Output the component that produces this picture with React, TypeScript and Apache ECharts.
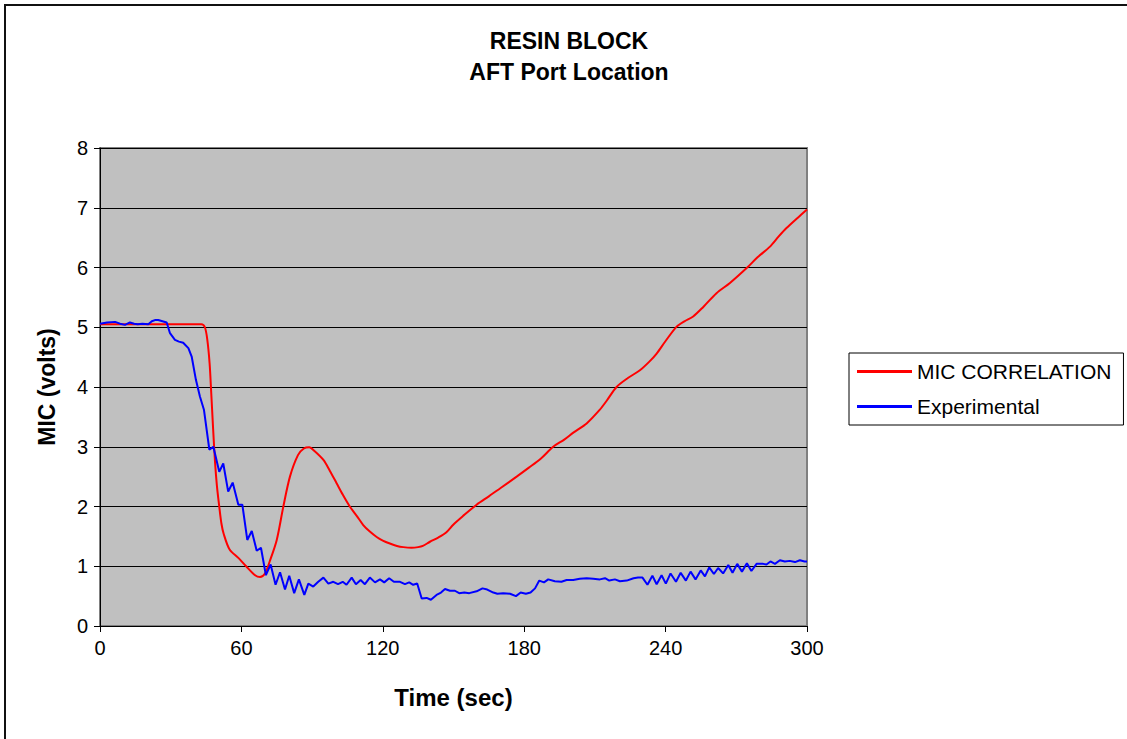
import React, { useEffect, useRef } from "react";
import * as echarts from "echarts";

const titleLines = ["RESIN BLOCK", "AFT Port Location"];
const xAxisName = "Time (sec)";
const yAxisName = "MIC (volts)";
const xTicks = [0, 60, 120, 180, 240, 300];
const yTicks = [0, 1, 2, 3, 4, 5, 6, 7, 8];
const seriesNames = ["MIC CORRELATION", "Experimental"];

const micCorrelation: [number, number][] = [
  [0, 5.05], [20, 5.05], [43, 5.05], [44.5, 5.0], [45.5, 4.8], [46.5, 4.4], [47.2, 3.9],
  [48, 3.3], [48.8, 2.75], [49.6, 2.35], [50.6, 2.0], [51.5, 1.72], [52.5, 1.54], [55, 1.28],
  [58.7, 1.14], [62, 1.0], [65.8, 0.85], [67.9, 0.82], [70, 0.88], [72, 1.08], [75, 1.44],
  [77.8, 2.0], [80.6, 2.5], [84, 2.86], [86.5, 2.97], [88.8, 2.99], [91, 2.93], [94.8, 2.78],
  [97.5, 2.6], [100.4, 2.39], [103, 2.2], [106, 2.0], [109, 1.84], [111.7, 1.69], [114.5, 1.58],
  [117.4, 1.49], [120, 1.43], [123, 1.38], [126, 1.34], [128.7, 1.32], [132.2, 1.31], [135, 1.32],
  [137, 1.34], [140, 1.41], [143.5, 1.48], [147, 1.57], [150, 1.7], [154, 1.84], [159.8, 2.03],
  [165, 2.17], [170, 2.31], [176.8, 2.5], [182, 2.65], [187, 2.8], [192.3, 3.0], [197, 3.12],
  [201, 3.24], [206.5, 3.39], [212.1, 3.62], [215, 3.77], [219.2, 4.0], [224, 4.15], [229.1, 4.28],
  [233, 4.42], [236.2, 4.56], [240, 4.77], [244.7, 5.01], [248, 5.1], [251.7, 5.18], [256, 5.34],
  [261.6, 5.57], [267.3, 5.74], [274.4, 5.99], [279, 6.17], [284.3, 6.35], [288, 6.52],
  [291.3, 6.66], [296, 6.83], [300, 6.97],
];

const experimental: [number, number][] = [
  [0, 5.06], [3, 5.08], [6.4, 5.09], [8.5, 5.06], [10.6, 5.04], [12.7, 5.08], [14.5, 5.06],
  [16, 5.05], [18, 5.06], [20.5, 5.05], [22, 5.1], [23.3, 5.12], [24.7, 5.12], [26.5, 5.1],
  [28.3, 5.08], [29.7, 4.9], [31.8, 4.79], [33.5, 4.76], [35.3, 4.74], [37.5, 4.65], [38.9, 4.51],
  [40.7, 4.12], [42.4, 3.84], [44.1, 3.62], [46.4, 2.95], [48.1, 3.0], [50.6, 2.58], [52.3, 2.72],
  [54.4, 2.25], [56.3, 2.4], [58.7, 2.03], [60.4, 2.03], [62.5, 1.44], [64.4, 1.59], [66.5, 1.26],
  [68.3, 1.31], [70.4, 0.85], [72.4, 1.03], [74.5, 0.69], [76.4, 0.9], [78.5, 0.61], [80.3, 0.84],
  [82.4, 0.55], [84.4, 0.78], [86.7, 0.52], [88.4, 0.71], [90.5, 0.66], [92.6, 0.74], [94.8, 0.81],
  [96.9, 0.71], [99, 0.74], [101, 0.7], [103, 0.74], [104.6, 0.69], [106.8, 0.81], [108.6, 0.7],
  [110.6, 0.77], [112.4, 0.7], [114.5, 0.81], [116.7, 0.73], [118.8, 0.78], [120.6, 0.73],
  [122.7, 0.8], [124.7, 0.74], [127.3, 0.74], [129.4, 0.7], [131.2, 0.73], [132.9, 0.69],
  [134.6, 0.71], [136.5, 0.46], [138.6, 0.47], [140.4, 0.44], [142.8, 0.52], [144.7, 0.56],
  [146.4, 0.62], [148.5, 0.59], [150.6, 0.59], [152.4, 0.55], [154.6, 0.56], [156.7, 0.55],
  [159.8, 0.58], [162.3, 0.63], [164.3, 0.61], [166.9, 0.56], [168.6, 0.54], [171.1, 0.55],
  [174, 0.54], [176.5, 0.5], [178.5, 0.56], [180.7, 0.54], [182.7, 0.56], [184.6, 0.63],
  [186.4, 0.76], [188.4, 0.73], [190.2, 0.78], [193, 0.75], [195.8, 0.74], [198, 0.77],
  [200.8, 0.77], [203.6, 0.79], [206.5, 0.8], [209.3, 0.79], [212.1, 0.78], [214.3, 0.8],
  [216.1, 0.76], [218.5, 0.78], [220.6, 0.75], [223.5, 0.76], [226.4, 0.8], [228.3, 0.81],
  [230.2, 0.81], [232.3, 0.69], [234.4, 0.84], [236.2, 0.7], [238.3, 0.85], [240.1, 0.71],
  [242.1, 0.88], [244.4, 0.74], [246.4, 0.89], [248.6, 0.76], [250.6, 0.91], [252.7, 0.78],
  [254.9, 0.93], [256.7, 0.83], [258.5, 0.98], [260.5, 0.87], [262.3, 0.97], [264.4, 0.88],
  [266.6, 1.02], [268.4, 0.89], [270.4, 1.04], [272.4, 0.91], [274.5, 1.05], [276.4, 0.92],
  [278.6, 1.04], [281.4, 1.04], [282.8, 1.03], [284.5, 1.08], [286.4, 1.04], [288.5, 1.1],
  [290.6, 1.08], [292.7, 1.09], [294.9, 1.07], [297, 1.1], [299, 1.08], [300, 1.08],
];

const FONT = "'Liberation Sans', Arial, sans-serif";

export default function App() {
  const ref = useRef<HTMLDivElement>(null);
  useEffect(() => {
    if (!ref.current) return;
    const chart = echarts.init(ref.current, undefined, { renderer: "svg" });
    chart.setOption({
      animation: false,
      backgroundColor: "#ffffff",
      textStyle: { fontFamily: FONT },
      graphic: [
        {
          type: "rect",
          shape: { x: 5, y: 5, width: 1300, height: 900 },
          style: { fill: "none", stroke: "#111", lineWidth: 2 },
          silent: true,
        },
        {
          type: "text",
          x: 569,
          y: 41,
          style: {
            text: titleLines[0],
            font: `bold 23px ${FONT}`,
            fill: "#000",
            textAlign: "center",
            textVerticalAlign: "middle",
          },
        },
        {
          type: "text",
          x: 569,
          y: 72,
          style: {
            text: titleLines[1],
            font: `bold 23px ${FONT}`,
            fill: "#000",
            textAlign: "center",
            textVerticalAlign: "middle",
          },
        },
      ],
      grid: {
        left: 100,
        top: 148,
        width: 707,
        height: 478,
        show: true,
        backgroundColor: "#c0c0c0",
        borderColor: "#808080",
        borderWidth: 2,
      },
      legend: {
        orient: "vertical",
        left: 849,
        top: 353,
        padding: [8, 12, 8, 8],
        itemGap: 14,
        itemWidth: 55,
        itemHeight: 3,
        icon: "rect",
        backgroundColor: "#ffffff",
        borderColor: "#000",
        borderWidth: 1,
        textStyle: { fontSize: 21, color: "#000", fontFamily: FONT, lineHeight: 20, padding: [0, 0, 0, 0] },
        data: seriesNames,
      },
      xAxis: {
        type: "value",
        min: xTicks[0],
        max: xTicks[xTicks.length - 1],
        interval: 60,
        name: xAxisName,
        nameLocation: "middle",
        nameGap: 59,
        nameTextStyle: { fontSize: 24, fontWeight: "bold", color: "#000", fontFamily: FONT },
        axisLine: { show: true, onZero: false, lineStyle: { color: "#000", width: 1 } },
        axisTick: { show: true, inside: false, length: 6, lineStyle: { color: "#000" } },
        axisLabel: { fontSize: 20, color: "#000", margin: 12, fontFamily: FONT },
        splitLine: { show: false },
      },
      yAxis: {
        type: "value",
        min: yTicks[0],
        max: yTicks[yTicks.length - 1],
        interval: 1,
        name: yAxisName,
        nameLocation: "middle",
        nameGap: 42,
        nameRotate: 90,
        nameTextStyle: { fontSize: 23, fontWeight: "bold", color: "#000", fontFamily: FONT },
        axisLine: { show: true, lineStyle: { color: "#000", width: 1 } },
        axisTick: { show: true, inside: false, length: 6, lineStyle: { color: "#000" } },
        axisLabel: { fontSize: 20, color: "#000", margin: 12, fontFamily: FONT },
        splitLine: { show: true, lineStyle: { color: "#000", width: 1 } },
      },
      series: [
        {
          name: seriesNames[0],
          type: "line",
          data: micCorrelation,
          showSymbol: false,
          symbol: "none",
          smooth: 0.3,
          lineStyle: { color: "#ff0000", width: 2 },
          itemStyle: { color: "#ff0000" },
          z: 3,
        },
        {
          name: seriesNames[1],
          type: "line",
          data: experimental,
          showSymbol: false,
          symbol: "none",
          lineStyle: { color: "#0000ff", width: 2 },
          itemStyle: { color: "#0000ff" },
          z: 4,
        },
      ],
    });
    return () => chart.dispose();
  }, []);
  return (
    <div
      ref={ref}
      style={{ position: "absolute", left: 0, top: 0, width: 1127, height: 739 }}
    />
  );
}
